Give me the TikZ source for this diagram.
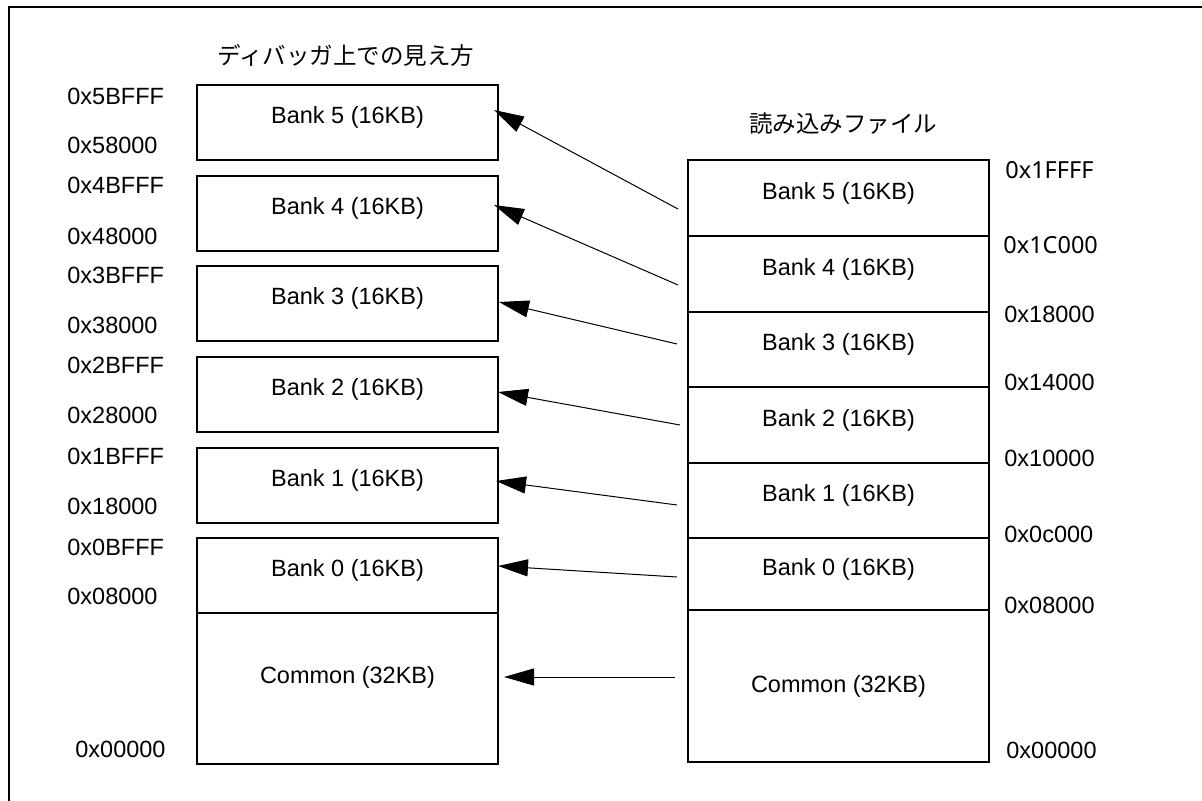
\documentclass[tikz,border=0pt]{standalone}
\usepackage{fontspec}
\setmainfont{Liberation Sans}
\newfontfamily\jpfont{Noto Sans CJK JP}
\newfontfamily\altfont{Noto Sans}
\usetikzlibrary{arrows.meta}
\begin{document}
\begin{tikzpicture}[x=0.5pt,y=-0.5pt,
  every node/.style={font=\fontsize{11.75pt}{13pt}\selectfont, inner sep=0pt},
  membox/.style={draw, line width=1pt, minimum width=150.5pt, anchor=north west},
  bank/.style={membox, minimum height=37.5pt},
  addr/.style={anchor=west},
  arr/.style={line width=0.5pt, -{Triangle[length=15pt,width=8.5pt]}}]
\useasboundingbox (0,0) rectangle (1202,801);
% frame
\draw[line width=1pt] (9,801) -- (9,7) -- (1203,7);
% titles
\node (t1) at (346,55) {\jpfont ディバッガ上での見え方};
\node (t2) at (843,124) {\jpfont 読み込みファイル};
% left boxes
\node[bank] (L5) at (196,84) {};
\node[bank] (L4) at (196,175) {};
\node[bank] (L3) at (196,265) {};
\node[bank] (L2) at (196,356) {};
\node[bank] (L1) at (196,447) {};
\node[bank] (L0) at (196,537) {};
\node[membox, minimum height=75.5pt] (LC) at (196,612) {};
\foreach \n/\t in {L5/Bank 5 (16KB),L4/Bank 4 (16KB),L3/Bank 3 (16KB),L2/Bank 2 (16KB),L1/Bank 1 (16KB),L0/Bank 0 (16KB)}
  \node (\n txt) at ([yshift=2.7pt]\n.center) {\t};
\node (LCtxt) at ([yshift=5.5pt]LC.center) {Common (32KB)};
% right boxes
\node[membox, minimum height=38pt] (R5) at (687,159) {};
\node[membox, minimum height=38pt] (R4) at (687,235) {};
\node[membox, minimum height=37.5pt] (R3) at (687,311) {};
\node[membox, minimum height=38pt] (R2) at (687,386) {};
\node[membox, minimum height=37.5pt] (R1) at (687,462) {};
\node[membox, minimum height=36pt] (R0) at (687,537) {};
\node[membox, minimum height=76pt] (RC) at (687,609) {};
\foreach \n/\t in {R5/Bank 5 (16KB),R4/Bank 4 (16KB),R3/Bank 3 (16KB),R2/Bank 2 (16KB),R1/Bank 1 (16KB),R0/Bank 0 (16KB)}
  \node (\n txt) at ([yshift=2.5pt]\n.center) {\t};
\node (RCtxt) at (RC.center) {Common (32KB)};
% left addresses
\node[addr] (a1) at (67,96) {0x5BFFF};
\node[addr] (a2) at (67,145) {0x58000};
\node[addr] (a3) at (67,185) {0x4BFFF};
\node[addr] (a4) at (67,236) {0x48000};
\node[addr] (a5) at (67,275) {0x3BFFF};
\node[addr] (a6) at (67,325) {0x38000};
\node[addr] (a7) at (67,365) {0x2BFFF};
\node[addr] (a8) at (67,415) {0x28000};
\node[addr] (a9) at (67,456) {0x1BFFF};
\node[addr] (a10) at (67,506) {0x18000};
\node[addr] (a11) at (67,547) {0x0BFFF};
\node[addr] (a12) at (67,596) {0x08000};
\node[addr] (a13) at (75,749) {0x00000};
% right addresses
\node[addr] (b1) at (1005,170) {\altfont 0x1FFFF};
\node[addr] (b2) at (1003,245) {\altfont 0x1C000};
\node[addr] (b3) at (1004,314) {0x18000};
\node[addr] (b4) at (1004,382) {0x14000};
\node[addr] (b5) at (1004,458) {0x10000};
\node[addr] (b6) at (1004,534) {0x0c000};
\node[addr] (b7) at (1004,605) {0x08000};
\node[addr] (b8) at (1006,750) {0x00000};
% arrow end points
\coordinate (s5) at (678,209); \coordinate (e5) at (494,110);
\coordinate (s4) at (678,285); \coordinate (e4) at (494,205);
\coordinate (s3) at (677,344); \coordinate (e3) at (499,302);
\coordinate (s2) at (680,425); \coordinate (e2) at (498,392);
\coordinate (s1) at (677,505); \coordinate (e1) at (496,481);
\coordinate (s0) at (677,577); \coordinate (e0) at (498,566);
\coordinate (sc) at (675,677); \coordinate (ec) at (504,677);
\foreach \i in {5,4,3,2,1,0,c}
  \draw[arr] (s\i) -- (e\i);
\end{tikzpicture}
\end{document}
